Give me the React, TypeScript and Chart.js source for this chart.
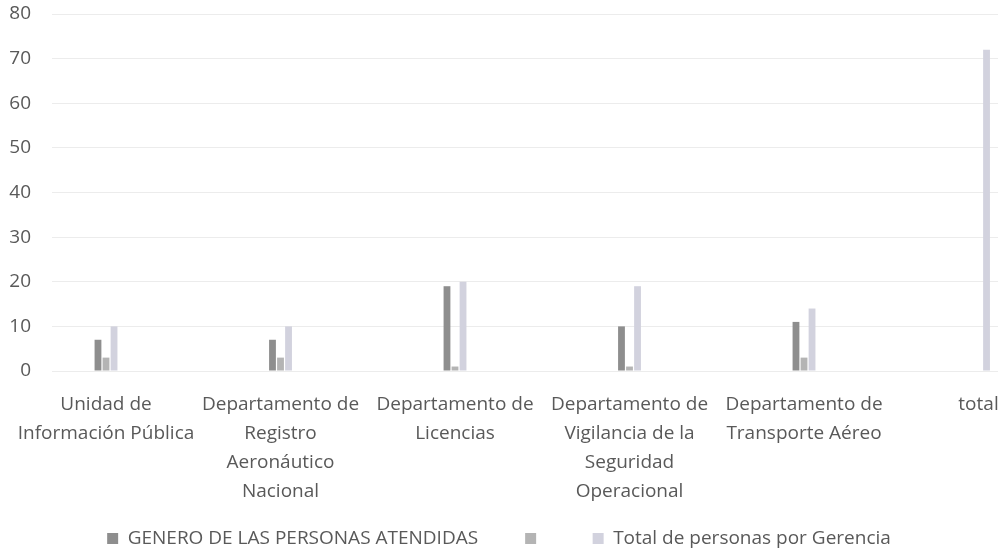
import React, { useEffect, useRef } from "react";
import { Chart, registerables } from "chart.js";

Chart.register(...registerables);

const categories: string[][] = [
  ["Unidad de", "Información Pública"],
  ["Departamento de", "Registro", "Aeronáutico", "Nacional"],
  ["Departamento de", "Licencias"],
  ["Departamento de", "Vigilancia de la", "Seguridad", "Operacional"],
  ["Departamento de", "Transporte Aéreo"],
  ["total"],
];

const seriesNames = ["GENERO DE LAS PERSONAS ATENDIDAS", "", "Total de personas por Gerencia"];
const generoValues = [7, 7, 19, 10, 11, null];
const secondValues = [3, 3, 1, 1, 3, null];
const totalValues = [10, 10, 20, 19, 14, 72];
const yTicks = [0, 10, 20, 30, 40, 50, 60, 70, 80];

const colors = ["#8e8e8e", "#b4b4b4", "#d2d2de"];

export default function App() {
  const ref = useRef<HTMLCanvasElement | null>(null);
  useEffect(() => {
    if (!ref.current) return;
    const toPts = (arr: (number | null)[]) => arr.map((v, i) => ({ x: i, y: v }));
    const family = "'Open Sans', sans-serif";
    const chart = new Chart(ref.current, {
      type: "bar",
      data: {
        datasets: [generoValues, secondValues, totalValues].map((vals, k) => ({
          label: seriesNames[k],
          data: toPts(vals) as any,
          backgroundColor: colors[k],
          categoryPercentage: 0.138,
          barPercentage: 0.85,
        })),
      },
      options: {
        animation: false,
        responsive: false,
        maintainAspectRatio: false,
        layout: { padding: { top: 14, right: 0, left: 0, bottom: -8 } },
        plugins: {
          tooltip: { enabled: false },
          legend: {
            position: "bottom",
            labels: {
              boxWidth: 11,
              boxHeight: 11,
              color: "#595959",
              font: { family, size: 19 },
              padding: 47,
            },
          },
        },
        scales: {
          x: {
            type: "linear",
            offset: false,
            min: -0.3095,
            max: 5.1117,
            grid: { display: false },
            border: { display: false },
            afterBuildTicks: (scale: any) => {
              scale.ticks = categories.map((_, i) => ({ value: i }));
            },
            afterFit: (scale: any) => {
              scale.height = 111;
              scale.paddingLeft = 0;
              scale.paddingRight = 0;
              scale._computeLabelArea = () => undefined;
            },
            ticks: {
              autoSkip: false,
              maxRotation: 0,
              padding: 11,
              color: "#595959",
              font: { family, size: 19, lineHeight: 1.53 },
              callback: (v: any) => categories[v as number] ?? "",
            },
          },
          y: {
            min: 0,
            max: 80,
            afterFit: (scale: any) => {
              scale.width = 52;
              scale.paddingTop = 0;
              scale.paddingBottom = 0;
            },
            afterBuildTicks: (scale: any) => {
              scale.ticks = yTicks.map((v) => ({ value: v }));
            },
            grid: { color: "#ececec", drawTicks: false },
            border: { display: false },
            ticks: { color: "#595959", font: { family, size: 19 }, padding: 21 },
          },
        },
      },
    });
    return () => chart.destroy();
  }, []);
  return (
    <div style={{ position: "fixed", left: 0, top: 0, width: 998, height: 550, background: "#fff" }}>
      <canvas ref={ref} width={998} height={550} />
    </div>
  );
}
